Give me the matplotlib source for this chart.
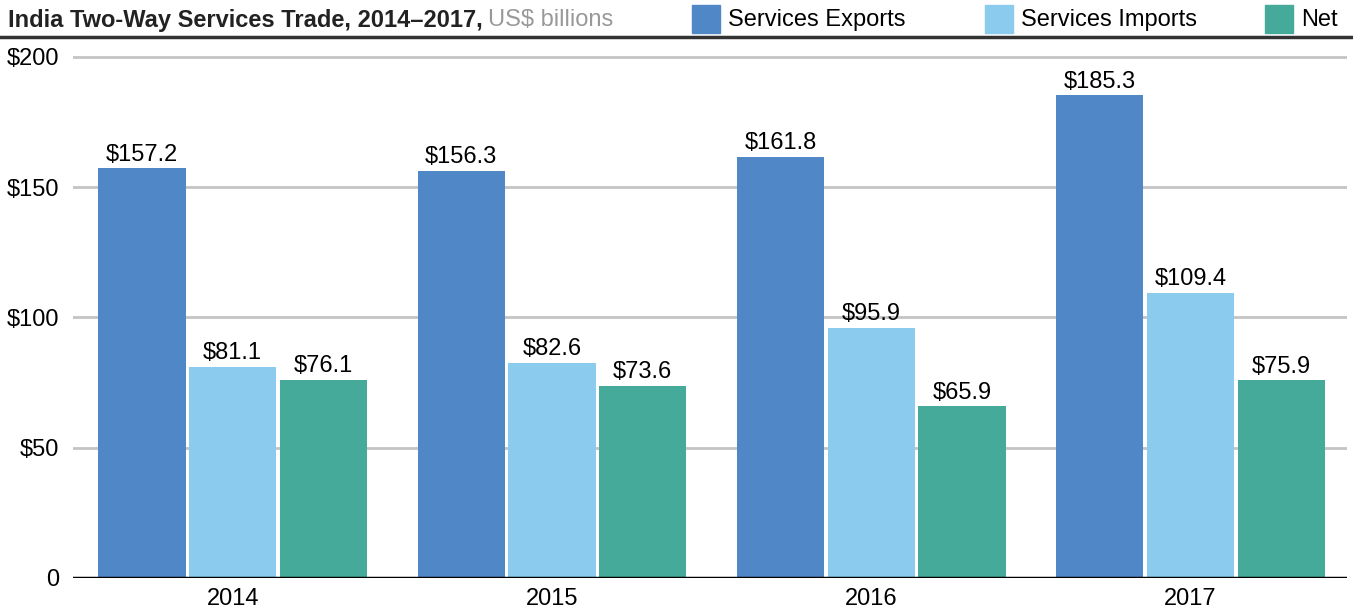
import numpy as np
import matplotlib
matplotlib.use('Agg')
import matplotlib.pyplot as plt
from matplotlib.patches import Rectangle
from matplotlib.lines import Line2D

years = ['2014', '2015', '2016', '2017']
exports = [157.2, 156.3, 161.8, 185.3]
imports = [81.1, 82.6, 95.9, 109.4]
net = [76.1, 73.6, 65.9, 75.9]
series_names = ['Services Exports', 'Services Imports', 'Net']
colors = ['#4F87C7', '#8BCBEE', '#45AA9A']
yticks = [0, 50, 100, 150, 200]
ytick_labels = ['0', '$50', '$100', '$150', '$200']

plt.rcParams['font.family'] = ['Liberation Sans', 'DejaVu Sans']

W, H = 1353, 614
fig = plt.figure(figsize=(W / 100, H / 100), dpi=100)

# axes box in pixel terms
x0, x1 = 73, 1347
ybase, ytop_val = 578, 202
ppu = 521 / 200
ytop = ybase - ytop_val * ppu
ax = fig.add_axes([x0 / W, 1 - ybase / H, (x1 - x0) / W, (ybase - ytop) / H])

x = np.arange(len(years))
bw = 0.273
step = 0.284
for i, (vals, c) in enumerate(zip([exports, imports, net], colors)):
    pos = x + (i - 1) * step
    bars = ax.bar(pos, vals, width=bw, color=c, zorder=3)
    for b, v in zip(bars, vals):
        ax.annotate(f'${v:.1f}', (b.get_x() + b.get_width() / 2, v),
                    xytext=(0, 2), textcoords='offset points',
                    ha='center', va='bottom', fontsize=17, zorder=4)

ax.set_xlim(-0.5, 3.49)
ax.set_ylim(0, ytop_val)
ax.set_yticks(yticks)
ax.set_yticklabels(ytick_labels, fontsize=17)
ax.set_xticks(x)
ax.set_xticklabels(years, fontsize=17)
ax.tick_params(axis='both', length=0)
ax.tick_params(axis='y', pad=10)
ax.tick_params(axis='x', pad=7)
for s in ax.spines.values():
    s.set_visible(False)
ax.yaxis.grid(True, color='#C4C4C4', linewidth=2, zorder=0)
ax.set_axisbelow(True)
ax.axhline(0, color='black', linewidth=2.5, zorder=5)

# header rule
fig.add_artist(Line2D([0, 1], [1 - 37 / H, 1 - 37 / H], color='#333333',
                      linewidth=2.5, transform=fig.transFigure))

# title
t1 = fig.text(8 / W, 1 - 20 / H, 'India Two-Way Services Trade, 2014\u20132017,',
              fontsize=17, fontweight='bold', color='#222222',
              ha='left', va='center')
fig.canvas.draw()
bb = t1.get_window_extent()
fig.text(bb.x1 / W + 5 / W, 1 - 20 / H, 'US$ billions', fontsize=17,
         color='#999999', ha='left', va='center')

# legend
leg_x = [692, 985, 1265]
for lx, name, c in zip(leg_x, series_names, colors):
    fig.add_artist(Rectangle((lx / W, 1 - 33 / H), 28 / W, 28 / H,
                             color=c, transform=fig.transFigure))
    fig.text((lx + 36) / W, 1 - 20 / H, name, fontsize=17,
             ha='left', va='center')

fig.savefig('out.png', dpi=100)
